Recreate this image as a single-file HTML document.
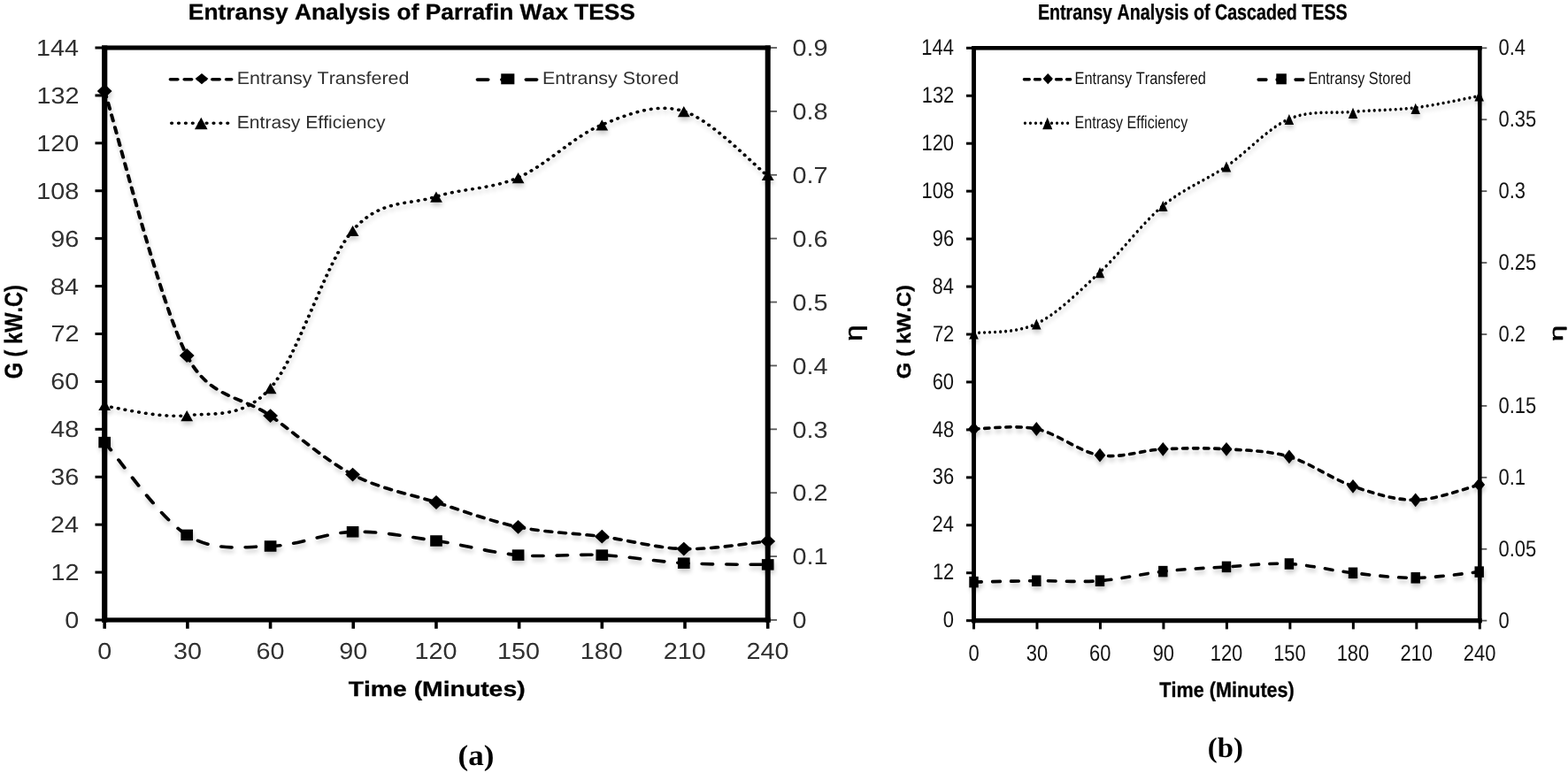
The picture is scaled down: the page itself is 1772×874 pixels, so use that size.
<!DOCTYPE html>
<html lang="en">
<head>
<meta charset="utf-8">
<title>Entransy Analysis of Parrafin Wax TESS and Cascaded TESS</title>
<style>
html,body{margin:0;padding:0;background:#fff;}
body{width:1772px;height:874px;overflow:hidden;}
svg{display:block;filter:blur(0.62px);}
text{stroke:#000;stroke-width:0px;stroke-linejoin:round;font-family:"Liberation Sans",sans-serif;font-kerning:none;font-variant-ligatures:none;text-rendering:geometricPrecision;white-space:pre;}
text.b{font-weight:bold;stroke-width:0.3px;}
text.e{stroke-width:0.6px;}
text.s{font-family:"Liberation Serif",serif;font-weight:bold;}
</style>
</head>
<body>
<svg width="1772" height="874" viewBox="0 0 1772 874" role="img" aria-label="Entransy analysis charts">
<defs><filter id="sh" x="-5%" y="-5%" width="110%" height="115%" color-interpolation-filters="sRGB"><feGaussianBlur in="SourceAlpha" stdDeviation="2.5"/><feOffset dx="0.6" dy="3.6"/><feComponentTransfer><feFuncA type="linear" slope="0.2"/></feComponentTransfer><feMerge><feMergeNode/><feMergeNode in="SourceGraphic"/></feMerge></filter></defs>
<rect width="1772" height="874" fill="#fff"/>
<g>
<g transform="translate(118.2 0) scale(1.12000 1)">
<g filter="url(#sh)">
<path d="M0 103C13.84 152.83 55.15 340.82 83.04 402C105.51 451.3 139.43 447.67 167.32 470.1C195.21 492.53 222.47 520.28 250.36 536.6C278.24 552.92 306.82 558.13 334.64 568C362.47 577.87 389.45 589.35 417.32 595.8C445.19 602.25 474.02 602.57 501.87 606.7C529.73 610.83 556.58 619.72 584.46 620.6C612.35 621.48 655.07 613.43 669.2 612" fill="none" stroke="#000" stroke-width="3.6" stroke-dasharray="6.8 7.3" stroke-dashoffset="0" stroke-linecap="round"/>
<path d="M0 500.1C13.84 517.57 55.15 585.33 83.04 604.9C110.92 624.47 139.43 618.1 167.32 617.5C195.21 616.9 222.47 602.3 250.36 601.3C278.24 600.3 306.82 607.12 334.64 611.5C362.47 615.88 389.45 624.92 417.32 627.6C445.19 630.28 474.02 626.08 501.87 627.6C529.73 629.12 556.58 634.9 584.46 636.7C612.35 638.5 655.07 638.12 669.2 638.4" fill="none" stroke="#000" stroke-width="3.6" stroke-dasharray="10.7 13.8" stroke-dashoffset="0" stroke-linecap="round"/>
<path d="M0 459.2C13.84 460.95 55.15 473.1 83.04 469.7C110.92 466.3 139.43 473.65 167.32 438.8C195.21 403.95 222.47 296.68 250.36 260.6C278.24 224.52 306.82 232.27 334.64 222.3C362.47 212.33 389.45 214.35 417.32 200.8C445.19 187.25 474.02 153.5 501.87 141C529.73 128.5 556.58 116.17 584.46 125.8C612.35 135.43 655.07 186.63 669.2 198.8" fill="none" stroke="#000" stroke-width="3.6" stroke-dasharray="0.2 6.85" stroke-dashoffset="0" stroke-linecap="round"/>
<g fill="#000"><path d="M0 95.1L7.5 103L0 110.9L-7.5 103Z"/><path d="M83.04 394.1L90.54 402L83.04 409.9L75.54 402Z"/><path d="M167.32 462.2L174.82 470.1L167.32 478L159.82 470.1Z"/><path d="M250.36 528.7L257.86 536.6L250.36 544.5L242.86 536.6Z"/><path d="M334.64 560.1L342.14 568L334.64 575.9L327.14 568Z"/><path d="M417.32 587.9L424.82 595.8L417.32 603.7L409.82 595.8Z"/><path d="M501.87 598.8L509.37 606.7L501.87 614.6L494.37 606.7Z"/><path d="M584.46 612.7L591.96 620.6L584.46 628.5L576.96 620.6Z"/><path d="M669.2 604.1L676.7 612L669.2 619.9L661.7 612Z"/></g>
<g fill="#000"><rect x="-6.1" y="493.85" width="12.2" height="12.5"/><rect x="76.94" y="598.65" width="12.2" height="12.5"/><rect x="161.22" y="611.25" width="12.2" height="12.5"/><rect x="244.26" y="595.05" width="12.2" height="12.5"/><rect x="328.54" y="605.25" width="12.2" height="12.5"/><rect x="411.22" y="621.35" width="12.2" height="12.5"/><rect x="495.77" y="621.35" width="12.2" height="12.5"/><rect x="578.36" y="630.45" width="12.2" height="12.5"/><rect x="663.1" y="632.15" width="12.2" height="12.5"/></g>
<g fill="#000"><path d="M0 451.9L6.15 464.1L-6.15 464.1Z"/><path d="M83.04 464L89.19 476.2L76.89 476.2Z"/><path d="M167.32 433.1L173.47 445.3L161.17 445.3Z"/><path d="M250.36 254.9L256.51 267.1L244.21 267.1Z"/><path d="M334.64 216.6L340.79 228.8L328.49 228.8Z"/><path d="M417.32 195.1L423.47 207.3L411.17 207.3Z"/><path d="M501.87 135.3L508.02 147.5L495.72 147.5Z"/><path d="M584.46 120.1L590.61 132.3L578.31 132.3Z"/><path d="M669.2 191.8L675.35 204L663.05 204Z"/></g>
</g>
<path d="M66.43 89.7H127.95" fill="none" stroke="#000" stroke-width="3.6" stroke-dasharray="7.2 6.9" stroke-dashoffset="0" stroke-linecap="round"/>
<g fill="#000"><path d="M98.04 82.9L104.64 89.1L98.04 95.3L91.44 89.1Z"/></g>
<path d="M376.25 90.1H439.11" fill="none" stroke="#000" stroke-width="3.6" stroke-dasharray="10.7 13.8" stroke-dashoffset="0" stroke-linecap="round"/>
<g fill="#000"><rect x="400.04" y="83.3" width="13.5" height="12"/></g>
<path d="M67.68 139.2H126.43" fill="none" stroke="#000" stroke-width="3.6" stroke-dasharray="0.2 6.85" stroke-dashoffset="0" stroke-linecap="round"/>
<g fill="#000"><path d="M97.41 132.85L103.91 146.15L90.91 146.15Z"/></g>
</g>
<g fill="#000">
<rect x="107.5" y="699.5" width="10.7" height="3"/>
<rect x="107.5" y="645.58" width="10.7" height="3"/>
<rect x="107.5" y="591.67" width="10.7" height="3"/>
<rect x="107.5" y="537.75" width="10.7" height="3"/>
<rect x="107.5" y="483.83" width="10.7" height="3"/>
<rect x="107.5" y="429.92" width="10.7" height="3"/>
<rect x="107.5" y="376" width="10.7" height="3"/>
<rect x="107.5" y="322.08" width="10.7" height="3"/>
<rect x="107.5" y="268.17" width="10.7" height="3"/>
<rect x="107.5" y="214.25" width="10.7" height="3"/>
<rect x="107.5" y="160.33" width="10.7" height="3"/>
<rect x="107.5" y="106.42" width="10.7" height="3"/>
<rect x="107.5" y="52.5" width="10.7" height="3"/>
<rect x="116.4" y="701" width="3.6" height="9.8"/>
<rect x="210.09" y="701" width="3.6" height="9.8"/>
<rect x="303.77" y="701" width="3.6" height="9.8"/>
<rect x="397.46" y="701" width="3.6" height="9.8"/>
<rect x="491.15" y="701" width="3.6" height="9.8"/>
<rect x="584.84" y="701" width="3.6" height="9.8"/>
<rect x="678.53" y="701" width="3.6" height="9.8"/>
<rect x="772.21" y="701" width="3.6" height="9.8"/>
<rect x="865.9" y="701" width="3.6" height="9.8"/>
</g>
<g fill="#5a5a5a">
<rect x="867.7" y="700.1" width="10.3" height="1.8"/>
<rect x="867.7" y="628.21" width="10.3" height="1.8"/>
<rect x="867.7" y="556.32" width="10.3" height="1.8"/>
<rect x="867.7" y="484.43" width="10.3" height="1.8"/>
<rect x="867.7" y="412.54" width="10.3" height="1.8"/>
<rect x="867.7" y="340.66" width="10.3" height="1.8"/>
<rect x="867.7" y="268.77" width="10.3" height="1.8"/>
<rect x="867.7" y="196.88" width="10.3" height="1.8"/>
<rect x="867.7" y="124.99" width="10.3" height="1.8"/>
<rect x="867.7" y="53.1" width="10.3" height="1.8"/>
</g>
<g fill="#000">
<rect x="115.1" y="51.45" width="6.2" height="652.15"/>
<rect x="864.7" y="51.45" width="6" height="652.15"/>
<rect x="115.1" y="51.45" width="755.6" height="5.1"/>
<rect x="115.1" y="698.4" width="755.6" height="5.2"/>
</g>
<text class="b" transform="translate(212.84 22.2) scale(1.0537 1.0000)" font-size="25" fill="#000">Entransy Analysis of Parrafin Wax TESS</text>
<text class="b" transform="translate(393.68 787) scale(1.1960 1.0000)" font-size="23.69" fill="#000">Time (Minutes)</text>
<text class="b" transform="translate(24.8 428.27) rotate(-90) scale(0.8366 1.0000)" font-size="28.2" fill="#000">G ( kW.C)</text>
<text class="e" transform="translate(974.1 385.7) rotate(-90) scale(1.1834 1.0000)" font-size="27.69" fill="#000">η</text>
<g>
<text transform="translate(73.21 709.98) scale(1.1073 1.0000)" font-size="26" fill="#303030">0</text>
<text transform="translate(57.52 656.06) scale(1.1073 1.0000)" font-size="26" fill="#303030">12</text>
<text transform="translate(56.92 602.14) scale(1.1073 1.0000)" font-size="26" fill="#303030">24</text>
<text transform="translate(57.34 548.23) scale(1.1073 1.0000)" font-size="26" fill="#303030">36</text>
<text transform="translate(57.33 494.31) scale(1.1073 1.0000)" font-size="26" fill="#303030">48</text>
<text transform="translate(57.2 440.39) scale(1.1073 1.0000)" font-size="26" fill="#303030">60</text>
<text transform="translate(57.52 386.48) scale(1.1073 1.0000)" font-size="26" fill="#303030">72</text>
<text transform="translate(56.92 332.56) scale(1.1073 1.0000)" font-size="26" fill="#303030">84</text>
<text transform="translate(57.34 278.64) scale(1.1073 1.0000)" font-size="26" fill="#303030">96</text>
<text transform="translate(41.31 224.73) scale(1.1073 1.0000)" font-size="26" fill="#303030">108</text>
<text transform="translate(41.19 170.81) scale(1.1073 1.0000)" font-size="26" fill="#303030">120</text>
<text transform="translate(41.51 116.89) scale(1.1073 1.0000)" font-size="26" fill="#303030">132</text>
<text transform="translate(40.91 62.98) scale(1.1073 1.0000)" font-size="26" fill="#303030">144</text>
</g><g>
<text transform="translate(110.19 745.2) scale(1.1073 1.0000)" font-size="26" fill="#303030">0</text>
<text transform="translate(195.89 745.2) scale(1.1073 1.0000)" font-size="26" fill="#303030">30</text>
<text transform="translate(289.39 745.2) scale(1.1073 1.0000)" font-size="26" fill="#303030">60</text>
<text transform="translate(383.14 745.2) scale(1.1073 1.0000)" font-size="26" fill="#303030">90</text>
<text transform="translate(468.4 745.2) scale(1.1073 1.0000)" font-size="26" fill="#303030">120</text>
<text transform="translate(562.09 745.2) scale(1.1073 1.0000)" font-size="26" fill="#303030">150</text>
<text transform="translate(655.77 745.2) scale(1.1073 1.0000)" font-size="26" fill="#303030">180</text>
<text transform="translate(749.83 745.2) scale(1.1073 1.0000)" font-size="26" fill="#303030">210</text>
<text transform="translate(843.52 745.2) scale(1.1073 1.0000)" font-size="26" fill="#303030">240</text>
</g><g>
<text transform="translate(895.48 710.18) scale(1.1073 1.0000)" font-size="26" fill="#303030">0</text>
<text transform="translate(895.48 638.29) scale(1.1073 1.0000)" font-size="26" fill="#303030">0.1</text>
<text transform="translate(895.48 566.4) scale(1.1073 1.0000)" font-size="26" fill="#303030">0.2</text>
<text transform="translate(895.48 494.51) scale(1.1073 1.0000)" font-size="26" fill="#303030">0.3</text>
<text transform="translate(895.48 422.62) scale(1.1073 1.0000)" font-size="26" fill="#303030">0.4</text>
<text transform="translate(895.48 350.73) scale(1.1073 1.0000)" font-size="26" fill="#303030">0.5</text>
<text transform="translate(895.48 278.84) scale(1.1073 1.0000)" font-size="26" fill="#303030">0.6</text>
<text transform="translate(895.48 206.95) scale(1.1073 1.0000)" font-size="26" fill="#303030">0.7</text>
<text transform="translate(895.48 135.07) scale(1.1073 1.0000)" font-size="26" fill="#303030">0.8</text>
<text transform="translate(895.48 63.18) scale(1.1073 1.0000)" font-size="26" fill="#303030">0.9</text>
</g>
<text transform="translate(267.74 95.4) scale(1.0801 1.0000)" font-size="19.91" fill="#303030">Entransy Transfered</text>
<text transform="translate(613.04 95.4) scale(1.0796 1.0000)" font-size="19.91" fill="#303030">Entransy Stored</text>
<text transform="translate(267.77 145.1) scale(1.0455 1.0000)" font-size="20.2" fill="#303030">Entrasy Efficiency</text>
<text class="s" transform="translate(517.46 864.6) scale(1.0670 1.0000)" font-size="32.86" fill="#000">(a)</text>
</g>
<g>
<g transform="translate(1100.5 0) scale(0.85446 1)">
<g filter="url(#sh)">
<path d="M0 485C13.81 485 55.06 480.05 82.86 485C110.65 489.95 138.88 510.9 166.77 514.7C194.66 518.5 222.32 508.95 250.22 507.8C278.11 506.65 306.31 506.37 334.13 507.8C361.94 509.23 389.21 509.4 417.11 516.4C445 523.4 473.63 541.65 501.49 549.8C529.34 557.95 556.39 565.58 584.23 565.3C612.06 565.02 654.45 550.97 668.49 548.1" fill="none" stroke="#000" stroke-width="3.6" stroke-dasharray="6.8 7.3" stroke-dashoffset="0" stroke-linecap="round"/>
<path d="M0 658.1C13.81 657.87 55.06 656.93 82.86 656.7C110.65 656.47 138.88 658.47 166.77 656.7C194.66 654.93 222.32 648.73 250.22 646.1C278.11 643.47 306.31 642.33 334.13 640.9C361.94 639.47 389.21 636.35 417.11 637.5C445 638.65 473.63 645.17 501.49 647.8C529.34 650.43 556.39 653.5 584.23 653.3C612.06 653.1 654.45 647.72 668.49 646.6" fill="none" stroke="#000" stroke-width="3.6" stroke-dasharray="10.7 13.8" stroke-dashoffset="0" stroke-linecap="round"/>
<path d="M0 376.7C13.81 374.93 55.06 377.6 82.86 366.1C110.65 354.6 138.88 329.95 166.77 307.7C194.66 285.45 222.32 252.53 250.22 232.6C278.11 212.67 306.31 204.45 334.13 188.1C361.94 171.75 389.21 144.78 417.11 134.5C445 124.22 473.63 128.53 501.49 126.4C529.34 124.27 556.39 124.68 584.23 121.7C612.06 118.72 654.45 110.7 668.49 108.5" fill="none" stroke="#000" stroke-width="3.6" stroke-dasharray="0.2 6.85" stroke-dashoffset="0" stroke-linecap="round"/>
<g fill="#000"><path d="M0 477.1L7.5 485L0 492.9L-7.5 485Z"/><path d="M82.86 477.1L90.36 485L82.86 492.9L75.36 485Z"/><path d="M166.77 506.8L174.27 514.7L166.77 522.6L159.27 514.7Z"/><path d="M250.22 499.9L257.72 507.8L250.22 515.7L242.72 507.8Z"/><path d="M334.13 499.9L341.63 507.8L334.13 515.7L326.63 507.8Z"/><path d="M417.11 508.5L424.61 516.4L417.11 524.3L409.61 516.4Z"/><path d="M501.49 541.9L508.99 549.8L501.49 557.7L493.99 549.8Z"/><path d="M584.23 557.4L591.73 565.3L584.23 573.2L576.73 565.3Z"/><path d="M668.49 540.2L675.99 548.1L668.49 556L660.99 548.1Z"/></g>
<g fill="#000"><rect x="-6.1" y="651.85" width="12.2" height="12.5"/><rect x="76.76" y="650.45" width="12.2" height="12.5"/><rect x="160.67" y="650.45" width="12.2" height="12.5"/><rect x="244.12" y="639.85" width="12.2" height="12.5"/><rect x="328.03" y="634.65" width="12.2" height="12.5"/><rect x="411.01" y="631.25" width="12.2" height="12.5"/><rect x="495.39" y="641.55" width="12.2" height="12.5"/><rect x="578.13" y="647.05" width="12.2" height="12.5"/><rect x="662.39" y="640.35" width="12.2" height="12.5"/></g>
<g fill="#000"><path d="M0 371.2L6.15 383.4L-6.15 383.4Z"/><path d="M82.86 360.4L89.01 372.6L76.71 372.6Z"/><path d="M166.77 302L172.92 314.2L160.62 314.2Z"/><path d="M250.22 226.9L256.37 239.1L244.07 239.1Z"/><path d="M334.13 182.4L340.28 194.6L327.98 194.6Z"/><path d="M417.11 128.9L423.26 141.1L410.96 141.1Z"/><path d="M501.49 121.8L507.64 134L495.34 134Z"/><path d="M584.23 116.8L590.38 129L578.08 129Z"/><path d="M668.49 102.3L674.64 114.5L662.34 114.5Z"/></g>
</g>
<path d="M66.43 89.7H127.94" fill="none" stroke="#000" stroke-width="3.6" stroke-dasharray="7.2 6.9" stroke-dashoffset="0" stroke-linecap="round"/>
<g fill="#000"><path d="M98.04 82.9L104.64 89.1L98.04 95.3L91.44 89.1Z"/></g>
<path d="M376.25 90.1H439.1" fill="none" stroke="#000" stroke-width="3.6" stroke-dasharray="10.7 13.8" stroke-dashoffset="0" stroke-linecap="round"/>
<g fill="#000"><rect x="400.03" y="83.3" width="13.5" height="12"/></g>
<path d="M67.68 139.2H126.43" fill="none" stroke="#000" stroke-width="3.6" stroke-dasharray="0.2 6.85" stroke-dashoffset="0" stroke-linecap="round"/>
<g fill="#000"><path d="M97.41 132.85L103.91 146.15L90.91 146.15Z"/></g>
</g>
<g fill="#000">
<rect x="1092" y="700.2" width="8.5" height="3"/>
<rect x="1092" y="646.25" width="8.5" height="3"/>
<rect x="1092" y="592.3" width="8.5" height="3"/>
<rect x="1092" y="538.35" width="8.5" height="3"/>
<rect x="1092" y="484.4" width="8.5" height="3"/>
<rect x="1092" y="430.45" width="8.5" height="3"/>
<rect x="1092" y="376.5" width="8.5" height="3"/>
<rect x="1092" y="322.55" width="8.5" height="3"/>
<rect x="1092" y="268.6" width="8.5" height="3"/>
<rect x="1092" y="214.65" width="8.5" height="3"/>
<rect x="1092" y="160.7" width="8.5" height="3"/>
<rect x="1092" y="106.75" width="8.5" height="3"/>
<rect x="1092" y="52.8" width="8.5" height="3"/>
<rect x="1099" y="701.7" width="3" height="9.7"/>
<rect x="1170.47" y="701.7" width="3" height="9.7"/>
<rect x="1241.95" y="701.7" width="3" height="9.7"/>
<rect x="1313.42" y="701.7" width="3" height="9.7"/>
<rect x="1384.9" y="701.7" width="3" height="9.7"/>
<rect x="1456.38" y="701.7" width="3" height="9.7"/>
<rect x="1527.85" y="701.7" width="3" height="9.7"/>
<rect x="1599.32" y="701.7" width="3" height="9.7"/>
<rect x="1670.8" y="701.7" width="3" height="9.7"/>
</g>
<g fill="#5a5a5a">
<rect x="1672.3" y="700.8" width="8" height="1.8"/>
<rect x="1672.3" y="619.88" width="8" height="1.8"/>
<rect x="1672.3" y="538.95" width="8" height="1.8"/>
<rect x="1672.3" y="458.03" width="8" height="1.8"/>
<rect x="1672.3" y="377.1" width="8" height="1.8"/>
<rect x="1672.3" y="296.18" width="8" height="1.8"/>
<rect x="1672.3" y="215.25" width="8" height="1.8"/>
<rect x="1672.3" y="134.32" width="8" height="1.8"/>
<rect x="1672.3" y="53.4" width="8" height="1.8"/>
</g>
<g fill="#000">
<rect x="1098.05" y="52" width="4.9" height="652.25"/>
<rect x="1670" y="52" width="4.6" height="652.25"/>
<rect x="1098.05" y="52" width="576.55" height="4.6"/>
<rect x="1098.05" y="699.15" width="576.55" height="5.1"/>
</g>
<text class="b" transform="translate(1172.88 22) scale(0.8014 1.0000)" font-size="24.56" fill="#000">Entransy Analysis of Cascaded TESS</text>
<text class="b" transform="translate(1310.36 788.4) scale(0.9068 1.0000)" font-size="23.84" fill="#000">Time (Minutes)</text>
<text class="b" transform="translate(1028.9 428.27) rotate(-90) scale(1.0758 1.0000)" font-size="21.95" fill="#000">G ( kW.C)</text>
<text class="e" transform="translate(1765.5 385.9) rotate(-90) scale(1.5885 1.0000)" font-size="20.63" fill="#000">η</text>
<g>
<text transform="translate(1065.85 709.34) scale(0.8572 1.0000)" font-size="25.6" fill="#141414">0</text>
<text transform="translate(1053.89 655.39) scale(0.8572 1.0000)" font-size="25.6" fill="#141414">12</text>
<text transform="translate(1053.43 601.44) scale(0.8572 1.0000)" font-size="25.6" fill="#141414">24</text>
<text transform="translate(1053.75 547.49) scale(0.8572 1.0000)" font-size="25.6" fill="#141414">36</text>
<text transform="translate(1053.74 493.54) scale(0.8572 1.0000)" font-size="25.6" fill="#141414">48</text>
<text transform="translate(1053.65 439.59) scale(0.8572 1.0000)" font-size="25.6" fill="#141414">60</text>
<text transform="translate(1053.89 385.64) scale(0.8572 1.0000)" font-size="25.6" fill="#141414">72</text>
<text transform="translate(1053.43 331.69) scale(0.8572 1.0000)" font-size="25.6" fill="#141414">84</text>
<text transform="translate(1053.75 277.74) scale(0.8572 1.0000)" font-size="25.6" fill="#141414">96</text>
<text transform="translate(1041.54 223.79) scale(0.8572 1.0000)" font-size="25.6" fill="#141414">108</text>
<text transform="translate(1041.44 169.84) scale(0.8572 1.0000)" font-size="25.6" fill="#141414">120</text>
<text transform="translate(1041.69 115.89) scale(0.8572 1.0000)" font-size="25.6" fill="#141414">132</text>
<text transform="translate(1041.23 61.94) scale(0.8572 1.0000)" font-size="25.6" fill="#141414">144</text>
</g><g>
<text transform="translate(1094.4 746.6) scale(0.8572 1.0000)" font-size="25.6" fill="#141414">0</text>
<text transform="translate(1159.78 746.6) scale(0.8572 1.0000)" font-size="25.6" fill="#141414">30</text>
<text transform="translate(1231.12 746.6) scale(0.8572 1.0000)" font-size="25.6" fill="#141414">60</text>
<text transform="translate(1302.63 746.6) scale(0.8572 1.0000)" font-size="25.6" fill="#141414">90</text>
<text transform="translate(1367.69 746.6) scale(0.8572 1.0000)" font-size="25.6" fill="#141414">120</text>
<text transform="translate(1439.16 746.6) scale(0.8572 1.0000)" font-size="25.6" fill="#141414">150</text>
<text transform="translate(1510.64 746.6) scale(0.8572 1.0000)" font-size="25.6" fill="#141414">180</text>
<text transform="translate(1582.39 746.6) scale(0.8572 1.0000)" font-size="25.6" fill="#141414">210</text>
<text transform="translate(1653.87 746.6) scale(0.8572 1.0000)" font-size="25.6" fill="#141414">240</text>
</g><g>
<text transform="translate(1693.54 709.74) scale(0.8572 1.0000)" font-size="25.6" fill="#141414">0</text>
<text transform="translate(1693.54 628.81) scale(0.8572 1.0000)" font-size="25.6" fill="#141414">0.05</text>
<text transform="translate(1693.54 547.89) scale(0.8572 1.0000)" font-size="25.6" fill="#141414">0.1</text>
<text transform="translate(1693.54 466.96) scale(0.8572 1.0000)" font-size="25.6" fill="#141414">0.15</text>
<text transform="translate(1693.54 386.04) scale(0.8572 1.0000)" font-size="25.6" fill="#141414">0.2</text>
<text transform="translate(1693.54 305.11) scale(0.8572 1.0000)" font-size="25.6" fill="#141414">0.25</text>
<text transform="translate(1693.54 224.19) scale(0.8572 1.0000)" font-size="25.6" fill="#141414">0.3</text>
<text transform="translate(1693.54 143.26) scale(0.8572 1.0000)" font-size="25.6" fill="#141414">0.35</text>
<text transform="translate(1693.54 62.34) scale(0.8572 1.0000)" font-size="25.6" fill="#141414">0.4</text>
</g>
<text transform="translate(1214.56 95.3) scale(0.8354 1.0000)" font-size="19.62" fill="#141414">Entransy Transfered</text>
<text transform="translate(1478.47 95.3) scale(0.8257 1.0000)" font-size="19.62" fill="#141414">Entransy Stored</text>
<text transform="translate(1214.58 145.1) scale(0.8008 1.0000)" font-size="20.06" fill="#141414">Entrasy Efficiency</text>
<text class="s" transform="translate(1364.85 856.2) scale(1.0232 1.0000)" font-size="32.14" fill="#000">(b)</text>
</g>
</svg>
</body>
</html>
